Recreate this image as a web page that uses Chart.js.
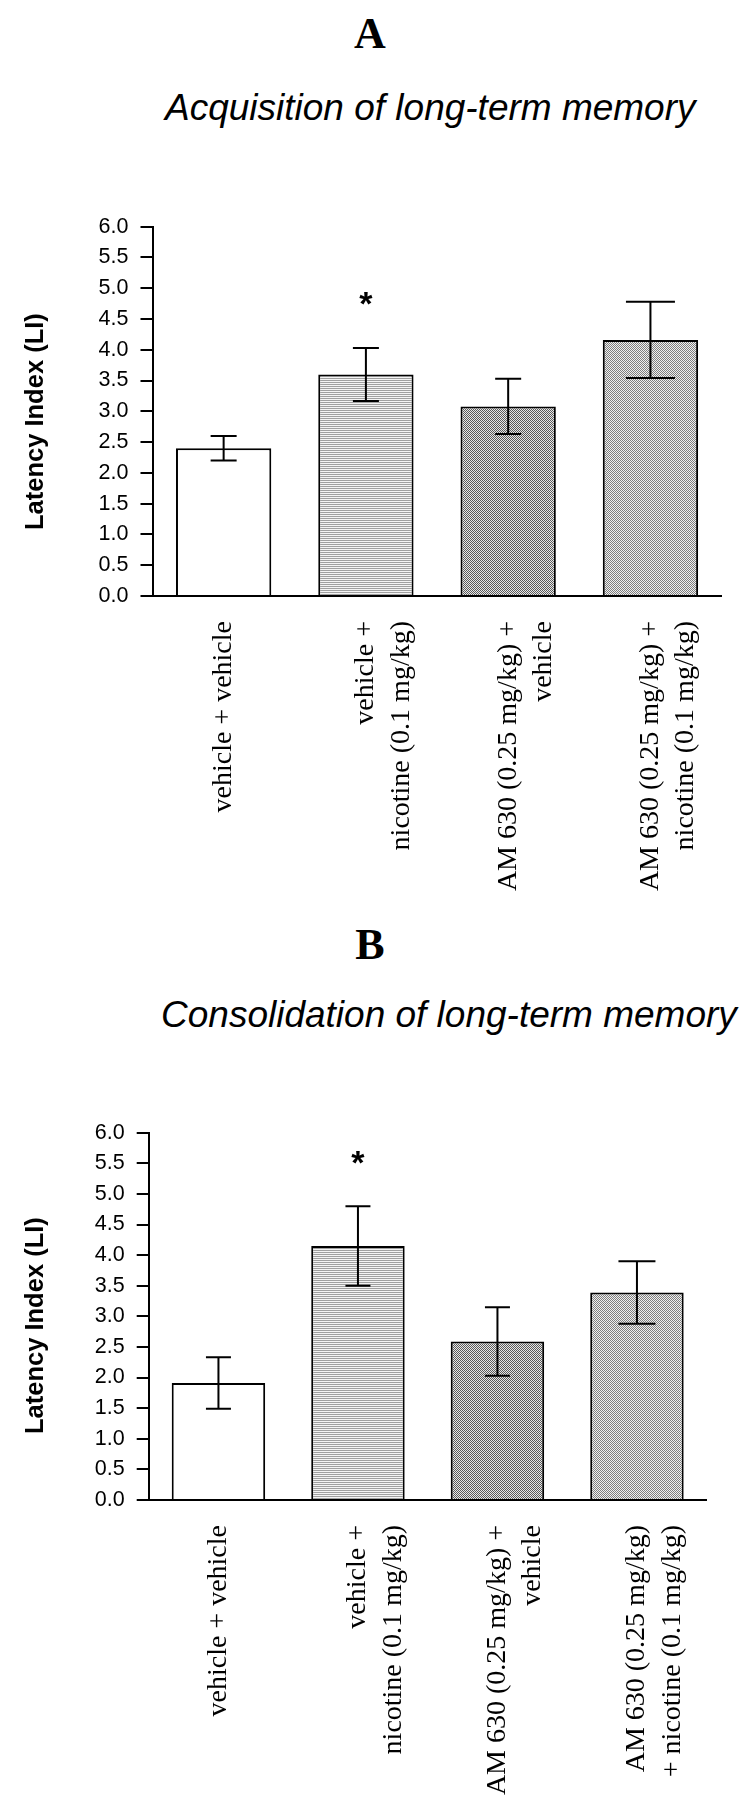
<!DOCTYPE html>
<html>
<head>
<meta charset="utf-8">
<script src="https://cdn.jsdelivr.net/npm/chart.js@4.4.1/dist/chart.umd.min.js"></script>
<style>
  html, body { margin: 0; padding: 0; background: #fff; }
  #page { position: relative; width: 750px; height: 1800px; overflow: hidden; background: #fff; }
  .panel { position: absolute; left: 0; width: 740px; text-align: center; color: #000;
           font: bold 44px "Liberation Serif", "Times New Roman", serif; line-height: 44px; }
  .heading { position: absolute; color: #000; white-space: nowrap;
             font: italic 37px "Liberation Sans", Arial, sans-serif; line-height: 37px; }
  canvas { position: absolute; left: 0; }
</style>
</head>
<body>
<div id="page">
  <div class="panel" style="top:12px">A</div>
  <div class="heading" style="left:165px; top:89px">Acquisition of long-term memory</div>
  <canvas id="chartA" width="750" height="740" style="top:160px; width:750px; height:740px"></canvas>

  <div class="panel" style="top:923px">B</div>
  <div class="heading" style="left:161px; top:996px">Consolidation of long-term memory</div>
  <canvas id="chartB" width="750" height="740" style="top:1060px; width:750px; height:740px"></canvas>
</div>

<script>
// ---------------- data ----------------
const categoriesA = [
  'vehicle + vehicle',
  ['vehicle +', 'nicotine (0.1 mg/kg)'],
  ['AM 630 (0.25 mg/kg) +', 'vehicle'],
  ['AM 630 (0.25 mg/kg) +', 'nicotine (0.1 mg/kg)']
];
const categoriesB = [
  'vehicle + vehicle',
  ['vehicle +', 'nicotine (0.1 mg/kg)'],
  ['AM 630 (0.25 mg/kg) +', 'vehicle'],
  ['AM 630 (0.25 mg/kg)', '+ nicotine (0.1 mg/kg)']
];
const meansA  = [2.40, 3.60, 3.08, 4.16];
const errorsA = [0.20, 0.43, 0.45, 0.62];
const meansB  = [1.91, 4.15, 2.59, 3.39];
const errorsB = [0.42, 0.65, 0.56, 0.51];
const significanceA = ['', '*', '', ''];
const significanceB = ['', '*', '', ''];
const yTickLabels = ['0.0','0.5','1.0','1.5','2.0','2.5','3.0','3.5','4.0','4.5','5.0','5.5','6.0'];
const yAxisTitle = 'Latency Index (LI)';

// ---------------- styles ----------------
const capWidthsA = [26, 26, 26, 49];
const capWidthsB = [25, 25, 25, 37];

function makePattern(rows) {
  const h = rows.length, w = rows[0].length;
  const c = document.createElement('canvas');
  c.width = w; c.height = h;
  const g = c.getContext('2d');
  for (let r = 0; r < h; r++) for (let k = 0; k < w; k++) {
    g.fillStyle = rows[r][k]; g.fillRect(k, r, 1, 1);
  }
  return g.createPattern(c, 'repeat');
}
function barFills() {
  return [
    '#ffffff',
    makePattern([['#a0a0a0'], ['#f4f4f4']]),
    makePattern([['#5a5a5a', '#e8e8e8'], ['#e8e8e8', '#5a5a5a']]),
    makePattern([['#7e7e7e', '#f0f0f0'], ['#f0f0f0', '#7e7e7e']])
  ];
}

function errorBarPlugin(means, errors, caps, marks) {
  return {
    id: 'errorBars',
    afterDatasetsDraw(chart) {
      const ctx = chart.ctx, y = chart.scales.y;
      const meta = chart.getDatasetMeta(0);
      ctx.save();
      ctx.strokeStyle = '#000';
      ctx.fillStyle = '#000';
      ctx.lineWidth = 2;
      meta.data.forEach((bar, i) => {
        const yt = y.getPixelForValue(means[i] + errors[i]);
        const yb = y.getPixelForValue(means[i] - errors[i]);
        const half = caps[i] / 2;
        ctx.beginPath();
        ctx.moveTo(bar.x, yt); ctx.lineTo(bar.x, yb);
        ctx.moveTo(bar.x - half, yt); ctx.lineTo(bar.x + half, yt);
        ctx.moveTo(bar.x - half, yb); ctx.lineTo(bar.x + half, yb);
        ctx.stroke();
        if (marks[i]) {
          ctx.font = 'bold 34px "Liberation Sans", Arial, sans-serif';
          ctx.textAlign = 'center';
          ctx.textBaseline = 'alphabetic';
          const m = ctx.measureText(marks[i]);
          const cy = yt - 49;
          ctx.fillText(marks[i], bar.x, cy + (m.actualBoundingBoxAscent - m.actualBoundingBoxDescent) / 2);
        }
      });
      ctx.restore();
    }
  };
}

const yTitlePlugin = {
  id: 'yTitle',
  afterDraw(chart) {
    const ctx = chart.ctx, area = chart.chartArea;
    ctx.save();
    ctx.font = 'bold 25.5px "Liberation Sans", Arial, sans-serif';
    ctx.fillStyle = '#000';
    ctx.textAlign = 'left';
    ctx.textBaseline = 'alphabetic';
    ctx.translate(43, area.bottom - 66);
    ctx.rotate(-Math.PI / 2);
    ctx.fillText(yAxisTitle, 0, 0);
    ctx.restore();
  }
};

function makeChart(id, labels, means, errors, caps, marks, yAxisWidth, xAxisHeight, padTop, padRight) {
  return new Chart(document.getElementById(id), {
    type: 'bar',
    data: {
      labels: labels,
      datasets: [{
        data: means,
        backgroundColor: barFills(),
        borderColor: '#000',
        borderWidth: 2,
        borderSkipped: 'bottom',
        barPercentage: 0.67,
        categoryPercentage: 1
      }]
    },
    options: {
      responsive: false,
      devicePixelRatio: 1,
      animation: false,
      layout: { padding: { left: 0, right: padRight, top: padTop, bottom: 0 } },
      plugins: { legend: { display: false }, tooltip: { enabled: false }, title: { display: false } },
      scales: {
        x: {
          offset: true,
          grid: { display: false, drawTicks: false },
          border: { display: true, color: '#000', width: 2 },
          ticks: {
            color: '#000',
            font: { family: '"Liberation Serif", "Times New Roman", serif', size: 28, lineHeight: 1.27 },
            minRotation: 90, maxRotation: 90, autoSkip: false, padding: 25
          },
          afterFit(s) { s.height = xAxisHeight; }
        },
        y: {
          min: 0, max: 6,
          ticks: {
            stepSize: 0.5, color: '#000', padding: 12,
            font: { family: '"Liberation Sans", Arial, sans-serif', size: 21.5 },
            callback: (v, i) => yTickLabels[i]
          },
          grid: { display: true, drawOnChartArea: false, drawTicks: true, tickLength: 12, color: '#000', lineWidth: 2 },
          border: { display: true, color: '#000', width: 2 },
          afterFit(s) { s.width = yAxisWidth; }
        }
      }
    },
    plugins: [errorBarPlugin(means, errors, caps, marks), yTitlePlugin]
  });
}

makeChart('chartA', categoriesA, meansA, errorsA, capWidthsA, significanceA, 152.5, 304, 66.7, 27.5);
makeChart('chartB', categoriesB, meansB, errorsB, capWidthsB, significanceB, 148.7, 300, 72.7, 43.3);
</script>
</body>
</html>
